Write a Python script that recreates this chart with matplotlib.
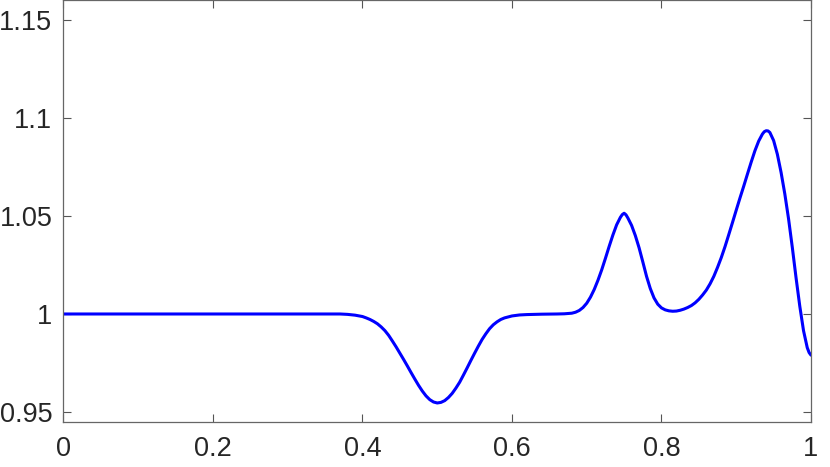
import numpy as np
import matplotlib
matplotlib.use("Agg")
import matplotlib.pyplot as plt
from matplotlib.ticker import FuncFormatter

# values
x_vals = [0.0, 0.1, 0.2, 0.3, 0.35, 0.37, 0.38, 0.39, 0.40, 0.405, 0.41, 0.415,
          0.42, 0.425, 0.43, 0.435, 0.44, 0.445, 0.45, 0.455, 0.46, 0.465,
          0.47, 0.475, 0.48, 0.485, 0.49, 0.495, 0.50, 0.505, 0.51, 0.515,
          0.52, 0.525, 0.53, 0.535, 0.54, 0.545, 0.55, 0.555, 0.56, 0.565,
          0.57, 0.575, 0.58, 0.585, 0.59, 0.60, 0.61, 0.62, 0.64, 0.66, 0.67,
          0.68, 0.685, 0.69, 0.695, 0.70, 0.705, 0.71, 0.715, 0.72, 0.725,
          0.73, 0.735, 0.74, 0.745, 0.7475, 0.75, 0.7525, 0.755, 0.76, 0.765,
          0.77, 0.775, 0.78, 0.785, 0.79, 0.795, 0.80, 0.805, 0.81, 0.815,
          0.82, 0.825, 0.83, 0.835, 0.84, 0.845, 0.85, 0.855, 0.86, 0.865,
          0.87, 0.875, 0.88, 0.885, 0.89, 0.895, 0.90, 0.905, 0.91, 0.915,
          0.92, 0.925, 0.93, 0.935, 0.9375, 0.94, 0.9425, 0.945, 0.95, 0.955,
          0.96, 0.965, 0.97, 0.975, 0.98, 0.985, 0.99, 0.995, 0.9975, 1.0]
y_vals = [1.0, 1.0, 1.0, 1.0, 1.0, 1.0, 0.9998, 0.9994, 0.9987, 0.9980, 0.9972,
          0.9962, 0.9950, 0.9934, 0.9915, 0.9891, 0.9862, 0.9832, 0.9800,
          0.9768, 0.9735, 0.9701, 0.9668, 0.9636, 0.9607, 0.9582, 0.9563,
          0.9551, 0.9546, 0.9549, 0.9558, 0.9574, 0.9595, 0.9622, 0.9652,
          0.9688, 0.9725, 0.9763, 0.9800, 0.9836, 0.9870, 0.9899, 0.9925,
          0.9945, 0.9960, 0.9972, 0.9980, 0.9990, 0.9995, 0.9997, 0.9999,
          1.0, 1.0001, 1.0004, 1.0009, 1.0018, 1.0033, 1.0055, 1.0086, 1.0125,
          1.0172, 1.0225, 1.0284, 1.0345, 1.0403, 1.0455, 1.0493, 1.0507,
          1.0514, 1.0506, 1.0490, 1.0452, 1.0400, 1.0338, 1.0266, 1.0192,
          1.0130, 1.0082, 1.0050, 1.0031, 1.0021, 1.0016, 1.0014, 1.0015,
          1.0019, 1.0025, 1.0033, 1.0043, 1.0057, 1.0075, 1.0097, 1.0122,
          1.0154, 1.0192, 1.0238, 1.0288, 1.0344, 1.0405, 1.0467, 1.0530,
          1.0592, 1.0652, 1.0714, 1.0775, 1.0833, 1.0882, 1.0918, 1.0930,
          1.0935, 1.0934, 1.0926, 1.0885, 1.0815, 1.0722, 1.0612, 1.0485,
          1.0340, 1.0185, 1.0040, 0.9915, 0.9828, 0.9803, 0.9790]

x_ticks = [0, 0.2, 0.4, 0.6, 0.8, 1]
y_ticks = [0.95, 1.0, 1.05, 1.1, 1.15]

plt.rcParams['font.family'] = ['Liberation Sans', 'DejaVu Sans']

fig = plt.figure(figsize=(8.3, 4.67), dpi=100)
ax = fig.add_axes([0.0765, 0.0964, 0.9006, 0.9036])

ax.plot(x_vals, y_vals, color=(0, 0, 1), lw=2.2,
        solid_joinstyle='round', solid_capstyle='round')

ax.set_xlim(0, 1)
ax.set_ylim(0.9449, 1.1602)
ax.set_xticks(x_ticks)
ax.set_yticks(y_ticks)
fmt = FuncFormatter(lambda v, p: '%g' % round(v, 3))
ax.xaxis.set_major_formatter(fmt)
ax.yaxis.set_major_formatter(fmt)

ax.tick_params(direction='in', length=6, width=0.8, top=True, right=True,
               color='#555555', labelcolor='#262626', labelsize=19.5)
ax.tick_params(axis='x', pad=10)
ax.tick_params(axis='y', pad=8)
for s in ax.spines.values():
    s.set_color('#666666')
    s.set_linewidth(0.9)

fig.savefig('out.png', dpi=100)
